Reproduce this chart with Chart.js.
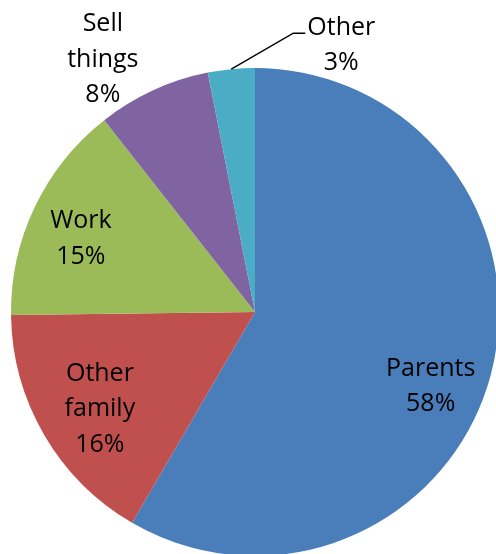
<!DOCTYPE html>
<html>
<head>
<meta charset="utf-8">
<script src="https://cdn.jsdelivr.net/npm/chart.js@4/dist/chart.umd.min.js"></script>
<style>
  html, body { margin: 0; padding: 0; background: #fff; overflow: hidden; }
  #wrap { width: 496px; height: 554px; overflow: hidden; }
</style>
</head>
<body>
<div id="wrap"><canvas id="pie" width="500" height="560"></canvas></div>
<script>
const categories = ['Parents', 'Other family', 'Work', 'Sell things', 'Other'];
const labelLines = [['Parents'], ['Other', 'family'], ['Work'], ['Sell', 'things'], ['Other']];
const values = [58.4, 16.4, 14.6, 7.5, 3.1];
const colors = ['#4A7EBB', '#C0504D', '#9BBB59', '#8064A2', '#4BACC6'];

// where each label sits: radial fraction of the slice mid-angle + a nudge
const labelPlace = [
  { f: 0.75, dx: -1, dy: 25 },
  { f: 0.75, dx: 3, dy: 3 },
  { f: 0.75, dx: -9, dy: 4 },
  { f: 1.2, dx: -30, dy: 12 },
  { leader: true }
];

const FONT = '25px "Open Sans"';
const LINE_H = 35.5;
const CAP_H = 18;

function drawBlock(ctx, lines, x, cy) {
  const blockH = CAP_H + (lines.length - 1) * LINE_H;
  let y = cy - blockH / 2 + CAP_H;
  lines.forEach(t => {
    ctx.fillText(t, x, y);
    y += LINE_H;
  });
}

const pieLabels = {
  id: 'pieLabels',
  afterDatasetsDraw(chart) {
    const ctx = chart.ctx;
    const meta = chart.getDatasetMeta(0);
    const total = values.reduce((a, b) => a + b, 0);
    ctx.save();
    ctx.font = FONT;
    ctx.fillStyle = '#000';
    ctx.textAlign = 'center';
    ctx.textBaseline = 'alphabetic';
    meta.data.forEach((arc, i) => {
      const p = arc.getProps(['x', 'y', 'startAngle', 'endAngle', 'outerRadius'], true);
      const mid = (p.startAngle + p.endAngle) / 2;
      const lines = labelLines[i].concat([Math.round(values[i] / total * 100) + '%']);
      const pl = labelPlace[i];
      if (pl.leader) {
        const ex = p.x + Math.cos(mid) * p.outerRadius;
        const ey = p.y + Math.sin(mid) * p.outerRadius;
        const kx = ex + 62, ky = ey - 36;
        const endX = kx + 12;
        ctx.strokeStyle = '#000';
        ctx.lineWidth = 1.5;
        ctx.beginPath();
        ctx.moveTo(ex, ey);
        ctx.lineTo(kx, ky);
        ctx.lineTo(endX, ky);
        ctx.stroke();
        drawBlock(ctx, lines, endX + 36, ky + 10.5);
      } else {
        const r = p.outerRadius * pl.f;
        const x = p.x + Math.cos(mid) * r + pl.dx;
        const y = p.y + Math.sin(mid) * r + pl.dy;
        drawBlock(ctx, lines, x, y);
      }
    });
    ctx.restore();
  }
};

new Chart(document.getElementById('pie'), {
  type: 'pie',
  data: {
    labels: categories,
    datasets: [{
      data: values,
      backgroundColor: colors,
      borderWidth: 0
    }]
  },
  options: {
    responsive: false,
    animation: false,
    layout: { padding: { left: 11, top: 68, right: 1, bottom: 4 } },
    plugins: {
      legend: { display: false },
      tooltip: { enabled: false }
    }
  },
  plugins: [pieLabels]
});
</script>
</body>
</html>
